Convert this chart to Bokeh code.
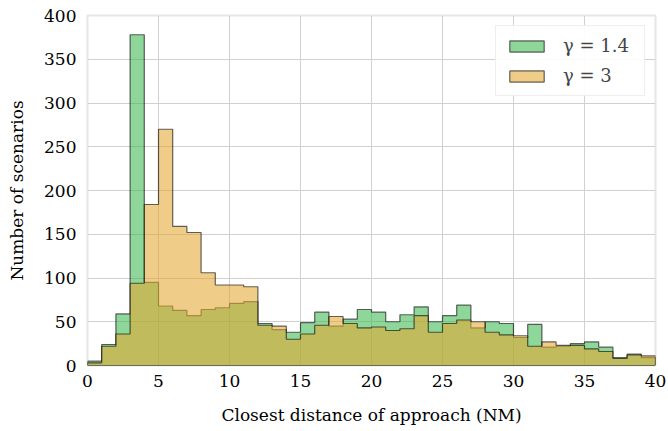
import numpy as np
from bokeh.plotting import figure
from bokeh.models import Range1d, FixedTicker, Legend, LegendItem
from bokeh.embed import file_html
from bokeh.resources import INLINE

# histogram bin edges (NM) and counts
bin_edges = list(range(0, 41))
counts_g14 = [5, 24, 59, 378, 95, 68, 63, 57, 64, 66, 71, 73, 48, 41, 38, 49, 61, 45, 53, 64,
              61, 50, 58, 67, 50, 57, 69, 43, 50, 48, 32, 47, 21, 22, 25, 27, 21, 9, 13, 9]
counts_g3 = [3, 22, 36, 94, 184, 270, 159, 152, 106, 92, 92, 90, 46, 45, 30, 36, 46, 56, 48, 43,
             44, 40, 42, 57, 38, 48, 52, 50, 38, 35, 34, 22, 27, 23, 23, 19, 16, 8, 12, 11]
labels = ["γ = 1.4", "γ = 3"]
x_ticks = [0, 5, 10, 15, 20, 25, 30, 35, 40]
y_ticks = [0, 50, 100, 150, 200, 250, 300, 350, 400]

FONT = "DejaVu Serif"

p = figure(width=668, height=431, output_backend="svg", toolbar_location=None,
           x_range=Range1d(0, 40), y_range=Range1d(0, 400),
           min_border_left=87, min_border_right=13, min_border_top=15, min_border_bottom=66)

def step_outline(edges, counts):
    e = np.asarray(edges, dtype=float)
    c = np.asarray(counts, dtype=float)
    xs = np.repeat(e, 2)
    ys = np.concatenate([[0.0], np.repeat(c, 2), [0.0]])
    return xs, ys

colors = ["#3eb851", "#e3a932"]
renderers = []
for counts, col in zip([counts_g14, counts_g3], colors):
    xs, ys = step_outline(bin_edges, counts)
    r = p.patch(xs, ys, fill_color=col, fill_alpha=0.58,
                line_color="black", line_alpha=0.6, line_width=1.2)
    renderers.append(r)

legend = Legend(items=[LegendItem(label=labels[0], renderers=[renderers[0]]),
                       LegendItem(label=labels[1], renderers=[renderers[1]])],
                location="top_right")
legend.label_text_font = FONT
legend.label_text_font_size = "18px"
legend.glyph_width = 43
legend.glyph_height = 14
legend.label_height = 20
legend.label_width = 72
legend.label_standoff = 15
legend.spacing = 9
legend.padding = 9
legend.margin = 10
legend.border_line_color = "#dddddd"
legend.border_line_width = 1.5
legend.background_fill_color = "white"
legend.background_fill_alpha = 0.9
p.add_layout(legend)

p.xaxis.ticker = FixedTicker(ticks=x_ticks)
p.yaxis.ticker = FixedTicker(ticks=y_ticks)
for ax in (p.xaxis, p.yaxis):
    ax.axis_line_color = None
    ax.major_tick_line_color = None
    ax.minor_tick_line_color = None
    ax.major_tick_out = 0
    ax.major_tick_in = 0
    ax.major_label_text_font = FONT
    ax.major_label_text_font_size = "17px"
    ax.major_label_text_color = "black"
    ax.axis_label_text_font = FONT
    ax.axis_label_text_font_size = "17px"
    ax.axis_label_text_font_style = "normal"
    ax.axis_label_text_color = "black"
p.xaxis.major_label_standoff = 9
p.yaxis.major_label_standoff = 11
p.xaxis.axis_label = "Closest distance of approach (NM)"
p.yaxis.axis_label = "Number of scenarios"
p.xaxis.axis_label_standoff = 15
p.yaxis.axis_label_standoff = 14

p.grid.grid_line_color = "#d0d0d0"
p.grid.grid_line_width = 1
p.outline_line_color = "#e6e6e6"
p.outline_line_width = 2
p.background_fill_color = "white"
p.border_fill_color = "white"

open("out.html", "w").write(file_html(p, INLINE))
